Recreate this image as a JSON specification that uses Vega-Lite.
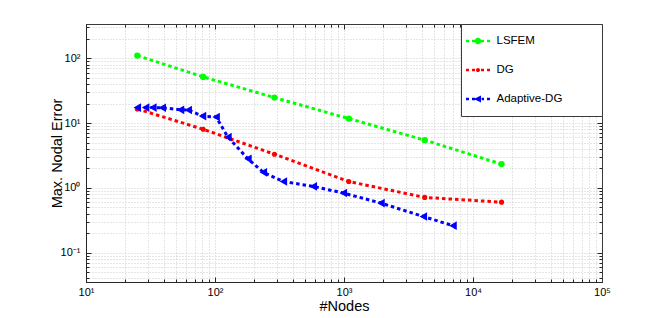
{
  "$schema": "https://vega.github.io/schema/vega-lite/v6.json",
  "width": 516,
  "height": 258,
  "autosize": {"type": "none"},
  "padding": {"left": 86, "top": 24, "right": 62, "bottom": 36},
  "background": "white",
  "config": {
    "font": "Liberation Sans",
    "view": {"stroke": "#3a3a3a", "strokeWidth": 1}
  },
  "data": {
    "values": [
      {"method": "LSFEM", "nodes": 25, "error": 110},
      {"method": "LSFEM", "nodes": 81, "error": 51.5},
      {"method": "LSFEM", "nodes": 289, "error": 24.7},
      {"method": "LSFEM", "nodes": 1089, "error": 11.7},
      {"method": "LSFEM", "nodes": 4225, "error": 5.44},
      {"method": "LSFEM", "nodes": 16641, "error": 2.32},
      {"method": "DG", "nodes": 25, "error": 16.5},
      {"method": "DG", "nodes": 81, "error": 8.0},
      {"method": "DG", "nodes": 289, "error": 3.3},
      {"method": "DG", "nodes": 1089, "error": 1.25},
      {"method": "DG", "nodes": 4225, "error": 0.71},
      {"method": "DG", "nodes": 16641, "error": 0.6},
      {"method": "Adaptive-DG", "nodes": 25, "error": 17.3},
      {"method": "Adaptive-DG", "nodes": 29, "error": 17.3},
      {"method": "Adaptive-DG", "nodes": 33, "error": 17.3},
      {"method": "Adaptive-DG", "nodes": 39, "error": 17.2},
      {"method": "Adaptive-DG", "nodes": 54, "error": 16.0},
      {"method": "Adaptive-DG", "nodes": 62, "error": 15.9},
      {"method": "Adaptive-DG", "nodes": 80, "error": 12.8},
      {"method": "Adaptive-DG", "nodes": 102, "error": 12.4},
      {"method": "Adaptive-DG", "nodes": 126, "error": 6.05},
      {"method": "Adaptive-DG", "nodes": 180, "error": 2.8},
      {"method": "Adaptive-DG", "nodes": 237, "error": 1.73},
      {"method": "Adaptive-DG", "nodes": 339, "error": 1.25},
      {"method": "Adaptive-DG", "nodes": 578, "error": 1.05},
      {"method": "Adaptive-DG", "nodes": 988, "error": 0.83},
      {"method": "Adaptive-DG", "nodes": 1935, "error": 0.58},
      {"method": "Adaptive-DG", "nodes": 4120, "error": 0.36},
      {"method": "Adaptive-DG", "nodes": 7000, "error": 0.26}
    ]
  },
  "layer": [
    {
      "transform": [{"filter": "datum.method == 'LSFEM'"}],
      "mark": {"type": "line", "strokeWidth": 3, "strokeDash": [3.5, 3], "color": "#00ff00"},
      "encoding": {
        "x": {
          "field": "nodes", "type": "quantitative",
          "scale": {"type": "log", "domain": [10, 100000], "nice": false},
          "axis": {
            "orient": "bottom",
            "values": [10,20,30,40,50,60,70,80,90,100,200,300,400,500,600,700,800,900,1000,2000,3000,4000,5000,6000,7000,8000,9000,10000,20000,30000,40000,50000,60000,70000,80000,90000,100000],
            "labelExpr": "datum.value==10?'10¹':datum.value==100?'10²':datum.value==1000?'10³':datum.value==10000?'10⁴':datum.value==100000?'10⁵':''",
            "labelOverlap": false,
            "labelFlush": false,
            "labelFontSize": 11,
            "labelColor": "#000000",
            "labelPadding": 9,
            "grid": true,
            "gridColor": "#cccccc",
            "gridDash": [1, 2],
            "tickColor": "#262626",
            "tickSize": {"condition": {"test": "datum.value==10||datum.value==100||datum.value==1000||datum.value==10000||datum.value==100000", "value": -5}, "value": -3},
            "domainColor": "#262626",
            "title": "#Nodes",
            "titleFontSize": 14.5,
            "titleFontWeight": "normal",
            "titleColor": "#000000",
            "titleX": 258,
            "titleY": 24,
            "titleBaseline": "middle"
          }
        },
        "y": {
          "field": "error", "type": "quantitative",
          "scale": {"type": "log", "domain": [0.0351, 338], "nice": false},
          "axis": {
            "orient": "left",
            "values": [0.04,0.05,0.06,0.07,0.08,0.09,0.1,0.2,0.3,0.4,0.5,0.6,0.7,0.8,0.9,1,2,3,4,5,6,7,8,9,10,20,30,40,50,60,70,80,90,100,200,300],
            "labelExpr": "datum.value==0.1?'10⁻¹':datum.value==1?'10⁰':datum.value==10?'10¹':datum.value==100?'10²':''",
            "labelOverlap": false,
            "labelFontSize": 11,
            "labelColor": "#000000",
            "labelPadding": 11,
            "grid": true,
            "gridColor": "#cccccc",
            "gridDash": [1, 2],
            "tickColor": "#262626",
            "tickSize": {"condition": {"test": "datum.value==0.1||datum.value==1||datum.value==10||datum.value==100", "value": -5}, "value": -3},
            "domainColor": "#262626",
            "title": "Max. Nodal Error",
            "titleFontSize": 14.5,
            "titleFontWeight": "normal",
            "titleColor": "#000000",
            "titleX": -29,
            "titleY": 129,
            "titleBaseline": "middle",
            "titleAlign": "center",
            "titleAngle": 270
          }
        }
      }
    },
    {
      "transform": [{"filter": "datum.method == 'DG'"}],
      "mark": {"type": "line", "strokeWidth": 3, "strokeDash": [3.5, 3], "color": "#ff0000"},
      "encoding": {
        "x": {"field": "nodes", "type": "quantitative", "axis": null},
        "y": {"field": "error", "type": "quantitative", "axis": null}
      }
    },
    {
      "transform": [{"filter": "datum.method == 'Adaptive-DG'"}],
      "mark": {"type": "line", "strokeWidth": 3, "strokeDash": [3.5, 3], "color": "#0000ff"},
      "encoding": {
        "x": {"field": "nodes", "type": "quantitative", "axis": null},
        "y": {"field": "error", "type": "quantitative", "axis": null}
      }
    },
    {
      "transform": [{"filter": "datum.method == 'LSFEM'"}],
      "mark": {"type": "point", "filled": true, "opacity": 1, "shape": "circle", "size": 40, "color": "#00ff00"},
      "encoding": {
        "x": {
          "field": "nodes", "type": "quantitative",
          "axis": {
            "orient": "top",
            "values": [10,20,30,40,50,60,70,80,90,100,200,300,400,500,600,700,800,900,1000,2000,3000,4000,5000,6000,7000,8000,9000,10000,20000,30000,40000,50000,60000,70000,80000,90000,100000],
            "labels": false,
            "grid": false,
            "tickColor": "#262626",
            "tickSize": {"condition": {"test": "datum.value==10||datum.value==100||datum.value==1000||datum.value==10000||datum.value==100000", "value": -5}, "value": -3},
            "domainColor": "#3a3a3a",
            "title": null
          }
        },
        "y": {
          "field": "error", "type": "quantitative",
          "axis": {
            "orient": "right",
            "values": [0.04,0.05,0.06,0.07,0.08,0.09,0.1,0.2,0.3,0.4,0.5,0.6,0.7,0.8,0.9,1,2,3,4,5,6,7,8,9,10,20,30,40,50,60,70,80,90,100,200,300],
            "labels": false,
            "grid": false,
            "tickColor": "#262626",
            "tickSize": {"condition": {"test": "datum.value==0.1||datum.value==1||datum.value==10||datum.value==100", "value": -5}, "value": -3},
            "domainColor": "#3a3a3a",
            "title": null
          }
        }
      }
    },
    {
      "transform": [{"filter": "datum.method == 'DG'"}],
      "mark": {"type": "point", "filled": true, "opacity": 1, "shape": "circle", "size": 26, "color": "#ff0000"},
      "encoding": {
        "x": {"field": "nodes", "type": "quantitative", "axis": null},
        "y": {"field": "error", "type": "quantitative", "axis": null}
      }
    },
    {
      "transform": [{"filter": "datum.method == 'Adaptive-DG'"}],
      "mark": {"type": "point", "filled": true, "opacity": 1, "shape": "triangle-left", "size": 75, "color": "#0000ff"},
      "encoding": {
        "x": {"field": "nodes", "type": "quantitative", "axis": null},
        "y": {"field": "error", "type": "quantitative", "axis": null}
      }
    },
    {
      "transform": [{"filter": "false"}],
      "mark": {"type": "point", "filled": true, "opacity": 1},
      "encoding": {
        "color": {
          "field": "method", "type": "nominal",
          "scale": {"domain": ["LSFEM", "DG", "Adaptive-DG"], "range": ["#00ff00", "#ff0000", "#0000ff"]},
          "legend": {
            "title": null, "orient": "none", "legendX": 375, "legendY": 0,
            "padding": 5, "strokeColor": "#3a3a3a", "fillColor": "white",
            "symbolSize": 576, "symbolStrokeWidth": 0, "symbolOpacity": 1,
            "labelFontSize": 11.5, "labelColor": "#000000", "labelOffset": 6.5, "rowPadding": 5
          }
        },
        "shape": {
          "field": "method", "type": "nominal",
          "scale": {"domain": ["LSFEM", "DG", "Adaptive-DG"], "range": [
            "M-1,-0.1H-0.75V0.1H-1Z M-0.5,-0.1H-0.25V0.1H-0.5Z M0.25,-0.1H0.5V0.1H0.25Z M0.75,-0.1H1V0.1H0.75Z M-0.27,0A0.27,0.27,0,1,1,0.27,0A0.27,0.27,0,1,1,-0.27,0Z M0,-1 M0,1 M9.9,0",
            "M-1,-0.1H-0.75V0.1H-1Z M-0.5,-0.1H-0.25V0.1H-0.5Z M0.25,-0.1H0.5V0.1H0.25Z M0.75,-0.1H1V0.1H0.75Z M-0.17,0A0.17,0.17,0,1,1,0.17,0A0.17,0.17,0,1,1,-0.17,0Z M0,-1 M0,1 M9.9,0",
            "M-1,-0.1H-0.75V0.1H-1Z M-0.5,-0.1H-0.25V0.1H-0.5Z M0.3,-0.1H0.5V0.1H0.3Z M0.75,-0.1H1V0.1H0.75Z M-0.35,0L0.25,-0.3L0.25,0.3Z M0,-1 M0,1 M9.9,0"
          ]},
          "legend": {
            "title": null, "orient": "none", "legendX": 375, "legendY": 0,
            "padding": 5, "strokeColor": "#3a3a3a", "fillColor": "white",
            "symbolSize": 576, "symbolStrokeWidth": 0, "symbolOpacity": 1,
            "labelFontSize": 11.5, "labelColor": "#000000", "labelOffset": 6.5, "rowPadding": 5
          }
        }
      }
    }
  ],
  "resolve": {
    "axis": {"x": "independent", "y": "independent"}
  }
}
